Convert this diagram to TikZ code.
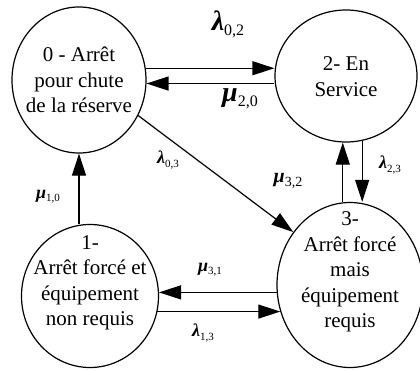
\documentclass[tikz,border=0pt]{standalone}
\usepackage{fontspec}
\setmainfont{Liberation Serif}
\usetikzlibrary{shapes.geometric,arrows.meta}
\newcommand{\rlab}[4]{{\fontsize{#1}{#1}\selectfont\bfseries\itshape #3}{\fontsize{#2}{#2}\selectfont\raisebox{-0.3em}{#4}}}
\begin{document}
\begin{tikzpicture}[x=1pt,y=1pt,
  state/.style={ellipse,draw,line width=1.2pt,inner sep=0pt},
  txt/.style={align=center,font=\fontsize{21}{25.5}\selectfont,inner sep=0pt},
  arr/.style={line width=1.2pt,-{Triangle[length=22pt,width=14pt]}},
  lab/.style={inner sep=0pt}]
\useasboundingbox (0,0) rectangle (420,370);
\node[state,minimum width=134pt,minimum height=146pt] (c0) at (79,290) {};
\node[state,minimum width=137pt,minimum height=143pt] (c1) at (90,74) {};
\node[state,minimum width=142pt,minimum height=132pt] (c2) at (346,294) {};
\node[state,minimum width=146pt,minimum height=165pt] (c3) at (350,85) {};
\node[txt] (t0) at (79,290) {0 - Arrêt\\pour chute\\de la réserve};
\node[txt] (t1) at (90,87) {1-\\Arrêt forcé et\\équipement\\non requis};
\node[txt] (t2) at (346,293.5) {2- En\\Service};
\node[txt] (t3) at (350,98) {3-\\Arrêt forcé\\mais\\équipement\\requis};
% arrows
\draw[arr] (c0.10) -- (c0.10 -| c2.west);
\draw[arr] (c0.-3.5 -| c2.west) -- (c0.-3.5);
\draw[arr] (c0.-31) -- (c3.137);
\draw[arr] (c3.95) -- (c3.95 |- c2.south);
\draw[arr] (c2.-76) -- (c2.-76 |- c3.north);
\draw[arr] (c0.south |- c1.north) -- (c0.south);
\draw[arr] (c1.3.3 -| c3.185.5) -- (c1.3.3);
\draw[arr] (c1.-13.5) -- (c1.-13.5 -| c3.201.4);
% labels
\node[lab] (l02) at (228,346) {\rlab{28}{16}{λ}{0,2}};
\node[lab] (m20) at (240,271) {\rlab{28}{16}{μ}{2,0}};
\node[lab] (l03) at (168,210) {\rlab{18}{11}{λ}{0,3}};
\node[lab] (m32) at (288,189) {\rlab{20}{14}{μ}{3,2}};
\node[lab] (l23) at (390,205) {\rlab{18}{11}{λ}{2,3}};
\node[lab] (m10) at (48,173) {\rlab{18}{11}{μ}{1,0}};
\node[lab] (m31) at (210,100) {\rlab{18}{11}{μ}{3,1}};
\node[lab] (l13) at (203,37) {\rlab{18}{11}{λ}{1,3}};
\end{tikzpicture}
\end{document}
